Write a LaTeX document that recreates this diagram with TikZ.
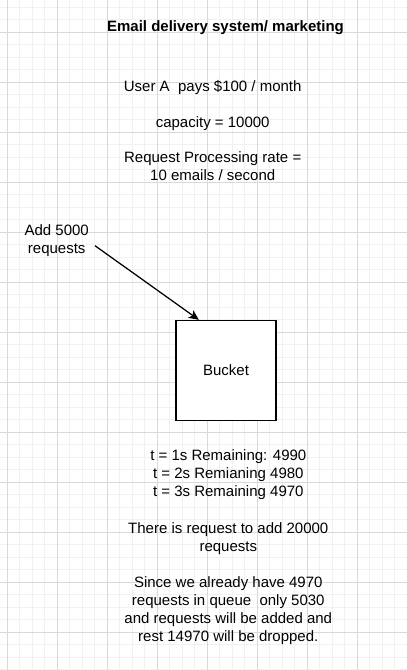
\documentclass[tikz,border=0pt]{standalone}
\usepackage{fontspec}
\setmainfont{Liberation Sans}
\usetikzlibrary{arrows.meta,calc}
\definecolor{gridmajor}{HTML}{D9D9D9}
\definecolor{gridminor}{HTML}{F1F1F1}
\tikzset{
  minorline/.style={draw=gridminor,line width=1pt},
  majorline/.style={draw=gridmajor,line width=1pt},
  txt/.style={font=\fontsize{15}{18}\selectfont,align=center,inner sep=0pt,anchor=base},
  boxnode/.style={draw=black,line width=1.3pt,fill=white,minimum width=100pt,minimum height=100pt,inner sep=0pt,font=\fontsize{15}{18}\selectfont},
  conn/.style={line width=1.25pt,-{Stealth[length=10pt,width=9pt,inset=2.5pt]}}
}
\begin{document}
\begin{tikzpicture}[x=1pt,y=-1pt]
\useasboundingbox (0,0) rectangle (407,670);
\fill[white] (0,0) rectangle (407,670);
\foreach \i in {0,...,32} {\draw[minorline] ({7.3+12.5*\i},0) -- ({7.3+12.5*\i},670);}
\foreach \i in {0,...,53} {\draw[minorline] (0,{7.3+12.5*\i}) -- (407,{7.3+12.5*\i});}
\foreach \i in {0,...,8} {\draw[majorline] ({7.3+50*\i},0) -- ({7.3+50*\i},670);}
\foreach \i in {0,...,12} {\draw[majorline] (0,{32.3+50*\i}) -- (407,{32.3+50*\i});}

\node[txt,font=\bfseries\fontsize{15}{18}\selectfont] (title) at (225.5,31.5) {Email delivery system/ marketing};
\node[txt] (pays) at (212.7,91) {User A\ \ pays \$100 / month};
\node[txt] (cap) at (212.7,127.3) {capacity = 10000};
\node[txt] (rate) at (212.7,180.5) {Request Processing rate =\\10 emails / second};
\node[txt] (add) at (56.7,253.3) {Add 5000\\requests};
\node[boxnode] (bucket) at (226,370.5) {Bucket};
\node[txt] (times) at (228.3,496.7) {t = 1s Remaining: 4990\\t = 2s Remianing 4980\\t = 3s Remaining 4970};
\node[txt] (req) at (228.3,551.3) {There is request to add 20000\\requests};
\node[txt] (since) at (228.3,641) {Since we already have 4970\\requests in queue\ \ only 5030\\and requests will be added and\\rest 14970 will be dropped.};

\coordinate (start) at (95,245.7);
\draw[conn] (start) -- ($(bucket.north west)+(23.5,0)$);
\end{tikzpicture}
\end{document}
